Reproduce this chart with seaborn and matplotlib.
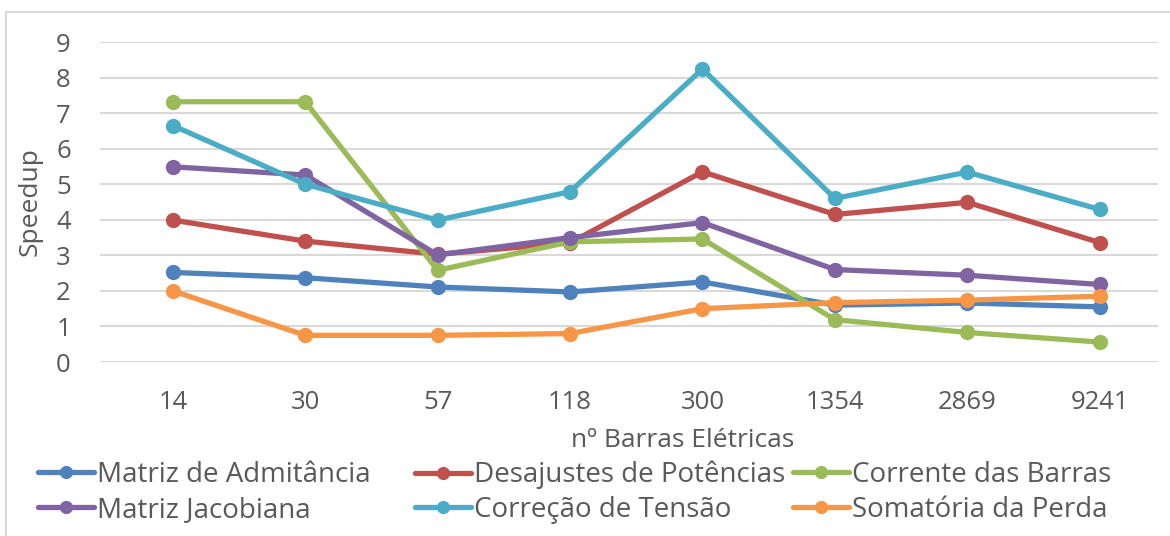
import matplotlib
matplotlib.use("Agg")
import matplotlib.pyplot as plt
import seaborn as sns
import pandas as pd
from matplotlib.lines import Line2D
from matplotlib.patches import Rectangle

# dados
barras = ["14", "30", "57", "118", "300", "1354", "2869", "9241"]
matriz_admitancia = [2.52, 2.37, 2.11, 1.97, 2.25, 1.60, 1.66, 1.55]
desajustes_potencias = [3.99, 3.40, 3.03, 3.35, 5.35, 4.15, 4.49, 3.36]
corrente_barras = [7.32, 7.32, 2.58, 3.38, 3.46, 1.19, 0.83, 0.56]
matriz_jacobiana = [5.49, 5.26, 3.01, 3.50, 3.92, 2.60, 2.44, 2.18]
correcao_tensao = [6.65, 5.00, 3.99, 4.79, 8.24, 4.60, 5.34, 4.29]
somatoria_perda = [2.00, 0.75, 0.75, 0.80, 1.50, 1.67, 1.74, 1.85]

series = ["Matriz de Admitância", "Desajustes de Potências", "Corrente das Barras",
          "Matriz Jacobiana", "Correção de Tensão", "Somatória da Perda"]
valores = [matriz_admitancia, desajustes_potencias, corrente_barras,
           matriz_jacobiana, correcao_tensao, somatoria_perda]
cores = ["#4F81BD", "#C0504D", "#9BBB59", "#8064A2", "#4BACC6", "#F79646"]

rows = []
for nome, vals in zip(series, valores):
    for i, v in enumerate(vals):
        rows.append({"pos": i, "barra": barras[i], "speedup": v, "serie": nome})
df = pd.DataFrame(rows)

sns.set_theme(style="white")
plt.rcParams["font.family"] = ["Open Sans", "DejaVu Sans"]
texto = "#595959"

W, H = 1170, 536
fig = plt.figure(figsize=(W / 100, H / 100), dpi=100)
ax = fig.add_axes([100 / W, 1 - 362 / H, (1158 - 100) / W, 320 / H])

sns.lineplot(data=df, x="pos", y="speedup", hue="serie", hue_order=series,
             palette=cores, marker="o", markersize=11, markeredgewidth=0,
             linewidth=3.8, sort=False, legend=False, ax=ax, clip_on=False)

ax.set_xlim(-0.55, 7.44)
ax.set_ylim(0, 9)
ax.set_yticks(range(10))
ax.set_xticks(range(len(barras)))
ax.set_xticklabels(barras)
ax.yaxis.grid(True, color="#D9D9D9", linewidth=1.5)
ax.set_axisbelow(True)
for s in ax.spines.values():
    s.set_visible(False)
ax.tick_params(axis="both", length=0, labelsize=18.5, colors=texto)
ax.tick_params(axis="y", pad=21)
ax.tick_params(axis="x", pad=20)

ax.set_xlabel("nº Barras Elétricas", fontsize=19, color=texto)
ax.xaxis.label.set_va("baseline")
ax.xaxis.set_label_coords((683 - 100) / 1058, (362 - 447) / 320)
ax.set_ylabel("Speedup", fontsize=19, color=texto)
ax.yaxis.set_label_coords((43 - 100) / 1058, 0.5)

# legenda: cada item posicionado como no Excel (3 colunas x 2 linhas)
col_x = [38, 415, 793]
row_y = [475, 510]
for k, nome in enumerate(series):
    r, c = divmod(k, 3)
    h = Line2D([], [], color=cores[k], linewidth=3.8, marker="o",
               markersize=9.5, markeredgewidth=0)
    leg = fig.legend([h], [nome], loc="center left",
                     bbox_to_anchor=(col_x[c] / W, 1 - row_y[r] / H),
                     frameon=False, fontsize=20, handlelength=2.0,
                     handletextpad=0.12, borderaxespad=0, borderpad=0)
    for t in leg.get_texts():
        t.set_color(texto)

# moldura da área do gráfico
fig.patches.append(Rectangle((6 / W, -0.05), 1.2, 1 - 12 / H + 0.05,
                             transform=fig.transFigure, fill=False,
                             edgecolor="#D9D9D9", linewidth=1.5))

fig.savefig("out.png", dpi=100)
